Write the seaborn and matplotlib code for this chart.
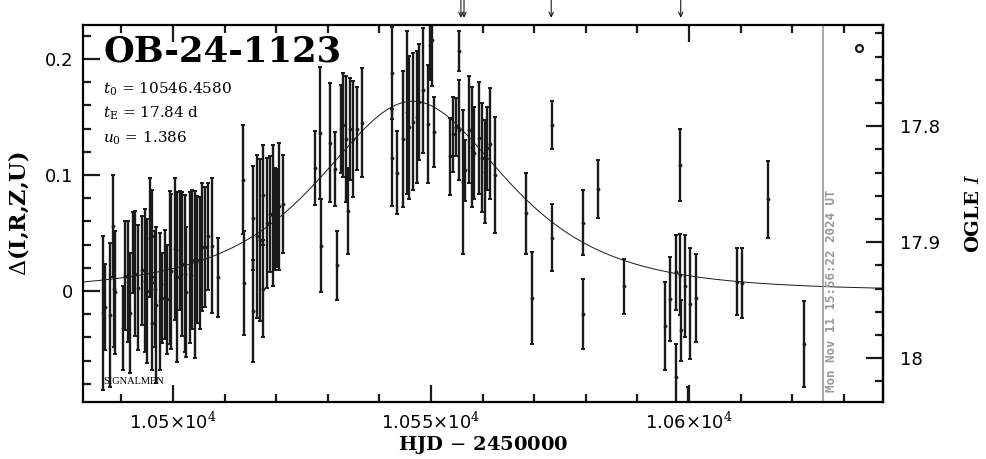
import numpy as np
import pandas as pd
import seaborn as sns
import matplotlib.pyplot as plt
from matplotlib.ticker import MultipleLocator, FixedLocator

# event parameters (from the panel)
event_name = "OB-24-1123"
t0 = 10546.4580
tE = 17.84
u0 = 1.386
I0 = 17.942

# photometry: HJD-2450000, delta mag, error
t_obs = [10486.5, 10486.8, 10487.7, 10488.4, 10488.5, 10488.8, 10490.4, 10490.7, 10491.3, 10491.7,
         10492.3, 10492.6, 10493.3, 10493.9, 10494.6, 10494.9, 10495.5, 10495.9, 10496.0, 10496.5,
         10496.8, 10497.5, 10497.8, 10498.4, 10498.8, 10499.4, 10499.7, 10500.4, 10500.7, 10501.4,
         10501.7, 10502.3, 10502.6, 10503.3, 10503.6, 10504.3, 10504.6, 10505.2, 10505.6, 10506.2,
         10506.8, 10507.5, 10508.8,
         10513.6, 10513.7, 10515.5, 10515.6, 10516.3, 10516.9, 10517.4, 10517.5, 10518.2, 10518.8,
         10519.4, 10519.8, 10520.2, 10520.5, 10521.3,
         10527.5, 10528.5, 10528.6, 10530.4, 10531.4, 10531.7, 10532.5, 10532.9, 10533.5, 10533.9,
         10534.3, 10534.9, 10535.7, 10536.6,
         10542.4, 10542.5, 10543.4, 10544.5, 10545.3, 10545.7, 10546.5, 10547.2, 10547.7, 10548.4,
         10549.5, 10549.8, 10550.2, 10550.6,
         10553.7, 10554.3, 10554.8, 10555.4, 10555.4, 10556.2, 10556.6, 10557.4, 10557.9, 10558.3,
         10559.3, 10559.8, 10560.5, 10560.8, 10561.4, 10562.4,
         10568.5, 10569.5, 10573.4, 10573.5, 10579.4, 10579.4, 10582.4, 10587.4, 10595.3, 10596.3,
         10597.4, 10597.4, 10598.3, 10598.3, 10598.4, 10599.2, 10599.8, 10600.2, 10601.4, 10609.3,
         10610.3, 10615.3, 10622.3]
dmag = [-0.019, -0.014, -0.021, 0.056, 0.002, -0.001, -0.032, 0.013, 0.008, -0.019,
        0.033, 0.015, 0.003, 0.018, 0.009, 0.000, 0.046, 0.047, -0.028, 0.002,
        -0.012, -0.009, -0.006, 0.006, -0.007, 0.020, 0.017, 0.036, 0.012, 0.035,
        0.023, 0.015, -0.001, 0.020, 0.027, 0.014, 0.027, 0.024, 0.038, 0.038,
        0.047, 0.039, 0.012,
        0.096, 0.007, 0.063, -0.017, 0.047, 0.044, 0.083, 0.002, 0.059, 0.066,
        0.065, 0.062, 0.063, 0.073, 0.075,
        0.106, 0.136, 0.039, 0.128, 0.105, 0.022, 0.140, 0.143, 0.131, 0.069,
        0.140, 0.131, 0.140, 0.145,
        0.188, 0.115, 0.102, 0.131, 0.154, 0.141, 0.146, 0.150, 0.163, 0.173,
        0.144, 0.212, 0.216, 0.137,
        0.116, 0.135, 0.141, 0.207, 0.139, 0.094, 0.104, 0.139, 0.124, 0.119,
        0.132, 0.115, 0.103, 0.123, 0.127, 0.100,
        0.067, -0.006, 0.143, 0.046, 0.059, -0.020, 0.088, 0.004, -0.030, -0.007,
        0.016, -0.074, 0.109, 0.014, -0.034, 0.004, -0.111, -0.011, -0.006, 0.008,
        0.007, 0.079, -0.046]
dmag_err = [0.066, 0.037, 0.062, 0.044, 0.050, 0.053, 0.036, 0.047, 0.052, 0.052,
            0.035, 0.054, 0.054, 0.047, 0.062, 0.062, 0.051, 0.040, 0.040, 0.050,
            0.067, 0.059, 0.039, 0.047, 0.047, 0.066, 0.067, 0.061, 0.073, 0.051,
            0.062, 0.068, 0.056, 0.065, 0.060, 0.072, 0.055, 0.057, 0.055, 0.052,
            0.046, 0.058, 0.034,
            0.047, 0.045, 0.045, 0.044, 0.070, 0.070, 0.043, 0.042, 0.056, 0.050,
            0.061, 0.044, 0.042, 0.055, 0.042,
            0.032, 0.057, 0.040, 0.051, 0.032, 0.030, 0.038, 0.045, 0.054, 0.037,
            0.044, 0.050, 0.036, 0.047,
            0.040, 0.042, 0.036, 0.059, 0.070, 0.062, 0.059, 0.057, 0.050, 0.054,
            0.051, 0.030, 0.039, 0.030,
            0.033, 0.032, 0.025, 0.017, 0.043, 0.062, 0.026, 0.046, 0.052, 0.040,
            0.048, 0.047, 0.044, 0.036, 0.048, 0.050,
            0.035, 0.040, 0.021, 0.029, 0.028, 0.030, 0.025, 0.024, 0.038, 0.036,
            0.032, 0.028, 0.031, 0.035, 0.026, 0.044, 0.028, 0.048, 0.038, 0.029,
            0.030, 0.033, 0.037]

# times marked with arrows above the frame
arrow_times = [10555.8, 10556.4, 10573.3, 10598.4]
now_line = 10626.0
stamp = "Mon Nov 11 15:56:22 2024 UT"

obs = pd.DataFrame({"hjd": t_obs, "dmag": dmag, "err": dmag_err})

# Paczynski model from the fitted parameters
xmin, xmax = 10482.56, 10637.6
tt = np.linspace(xmin, xmax, 600)
u = np.sqrt(u0**2 + ((tt - t0) / tE)**2)
amp = (u**2 + 2) / (u * np.sqrt(u**2 + 4))
model = pd.DataFrame({"hjd": tt, "dmag": 2.5 * np.log10(amp)})

sns.set_theme(style="ticks")
plt.rcParams["font.family"] = ["DejaVu Serif"]
plt.rcParams["mathtext.fontset"] = "dejavuserif"
for key in ["text.color", "axes.labelcolor", "xtick.color", "ytick.color", "axes.edgecolor"]:
    plt.rcParams[key] = "black"

fig = plt.figure(figsize=(9.86, 4.59), dpi=100)
ax = fig.add_axes([0.0842, 0.1242, 0.8113, 0.8213])

sns.lineplot(data=model, x="hjd", y="dmag", color="k", lw=0.7, ax=ax)
ax.errorbar(obs["hjd"], obs["dmag"], yerr=obs["err"], fmt="none", ecolor="k",
            elinewidth=1.7, capsize=1.6, capthick=1.4)
sns.scatterplot(data=obs, x="hjd", y="dmag", color="k", s=6, edgecolor="k", ax=ax, zorder=3)

ax.set_xlim(xmin, xmax)
ax.set_ylim(-0.0957, 0.2293)

ax.xaxis.set_major_locator(FixedLocator([10500, 10550, 10600]))
ax.xaxis.set_minor_locator(MultipleLocator(10))
ax.set_xticklabels([r"1.05$\times$10$^4$", r"1.055$\times$10$^4$", r"1.06$\times$10$^4$"],
                   family="DejaVu Sans", fontsize=13)
ax.yaxis.set_major_locator(FixedLocator([0, 0.1, 0.2]))
ax.yaxis.set_minor_locator(MultipleLocator(0.02))
ax.set_yticklabels(["0", "0.1", "0.2"], family="DejaVu Sans", fontsize=13)
ax.tick_params(which="both", direction="in", top=True, right=False, width=1.6, color="k")
ax.tick_params(which="major", length=12, pad=7)
ax.tick_params(which="minor", length=6)
for s in ax.spines.values():
    s.set_linewidth(1.6)

sec = ax.secondary_yaxis("right", functions=(lambda d: I0 - d, lambda m: I0 - m))
sec.yaxis.set_major_locator(FixedLocator([17.8, 17.9, 18.0]))
sec.yaxis.set_minor_locator(MultipleLocator(0.02))
sec.set_yticklabels(["17.8", "17.9", "18"], family="DejaVu Sans", fontsize=13)
sec.tick_params(which="both", direction="in", width=1.6, color="k")
sec.tick_params(which="major", length=12, pad=12)
sec.tick_params(which="minor", length=6)
sec.spines["right"].set_linewidth(1.6)
sec.set_ylabel(r"OGLE $I$", fontsize=14, fontweight="bold", labelpad=18)

ax.set_xlabel("HJD $-$ 2450000", fontsize=14, fontweight="bold", labelpad=1)
ax.set_ylabel(r"$\Delta$(I,R,Z,U)", fontsize=16, fontweight="bold", labelpad=10)

ax.text(0.025, 0.975, event_name, transform=ax.transAxes, fontsize=25.5, fontweight="bold",
        va="top", ha="left")
ax.text(0.025, 0.83, r"$t_0$ = %.4f" % t0, transform=ax.transAxes, fontsize=11, va="center")
ax.text(0.025, 0.765, r"$t_{\rm E}$ = %.2f d" % tE, transform=ax.transAxes, fontsize=11, va="center")
ax.text(0.025, 0.70, r"$u_0$ = %.3f" % u0, transform=ax.transAxes, fontsize=11, va="center")
ax.text(0.025, 0.055, "SIGNALMEN", transform=ax.transAxes, fontsize=7.5,
        family="Liberation Serif", va="center")

ax.axvline(now_line, color="#999999", lw=1.2)
ax.text(now_line + 1.7, -0.087, stamp, rotation=90, ha="center", va="bottom",
        family="DejaVu Sans Mono", fontweight="bold", fontsize=9, color="#999999")

ax.plot([0.97], [0.939], transform=ax.transAxes, marker="o", ms=5, mfc="white",
        mec="k", mew=1.6, clip_on=False)

for at in arrow_times:
    ax.annotate("", xy=(at, 1.019), xytext=(at, 1.068), xycoords=("data", "axes fraction"),
                arrowprops=dict(arrowstyle="->", lw=0.8, color="k",
                                shrinkA=0, shrinkB=0, mutation_scale=8),
                annotation_clip=False)

fig.savefig("out.png", dpi=100)
